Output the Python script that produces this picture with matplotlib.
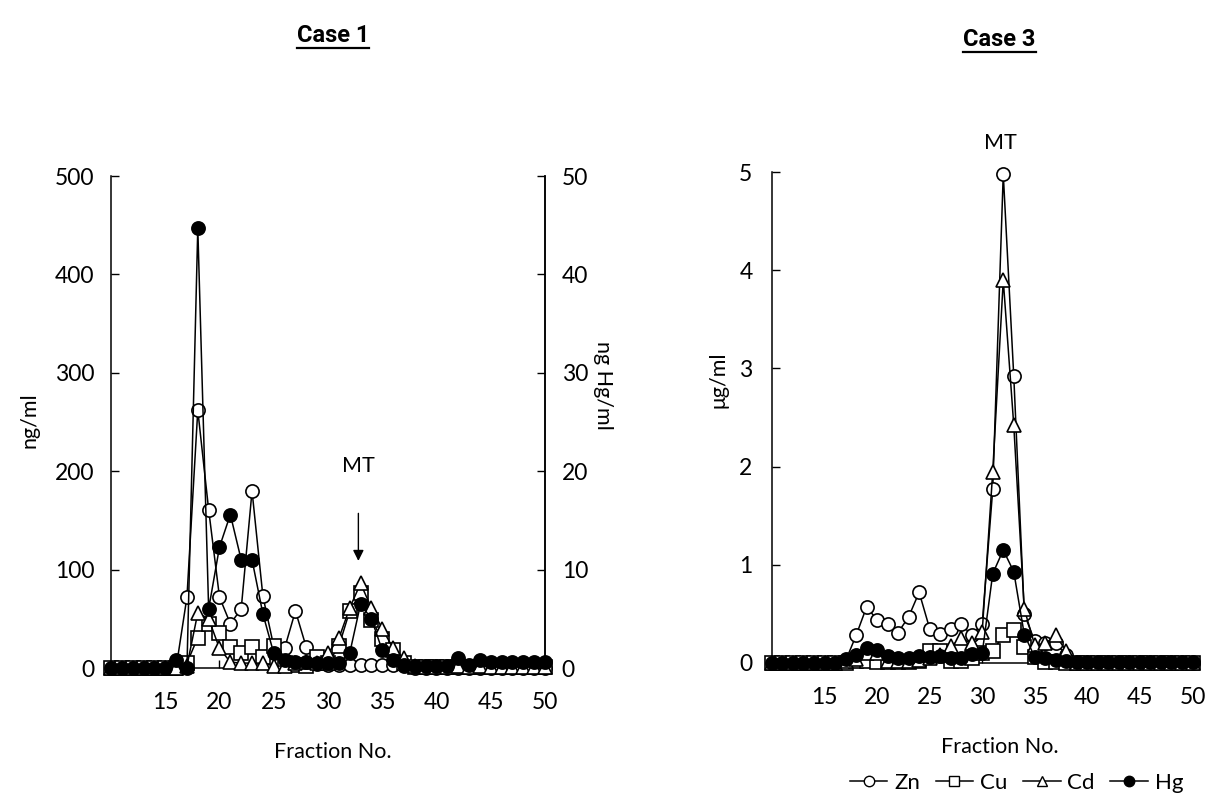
import numpy as np
import matplotlib.pyplot as plt
from matplotlib.lines import Line2D

plt.rcParams['font.family'] = ['Lato', 'DejaVu Sans']

# fraction numbers shown on both panels
fractions = np.arange(10, 51)

# Case 1 (ng/ml; Hg on right axis in ng Hg/ml)
zn1 = [0, 0, 0, 0, 0, 0, 0, 72, 262, 161, 72, 45, 60, 180, 73, 22, 20, 58, 21, 4, 3,
       3, 3, 3, 3, 3, 3, 2, 0, 0, 0, 0, 0, 0, 0, 0, 0, 0, 0, 0, 0]
cu1 = [0, 0, 0, 0, 0, 0, 0, 5, 31, 45, 36, 21, 15, 21, 11, 22, 5, 3, 2, 11, 5,
       22, 58, 76, 49, 29, 18, 5, 1, 1, 1, 1, 1, 1, 1, 1, 1, 1, 1, 1, 1]
cd1 = [0, 0, 0, 0, 0, 0, 0, 2, 56, 50, 20, 6, 5, 5, 5, 2, 2, 5, 6, 5, 15,
       30, 61, 86, 61, 40, 20, 10, 2, 1, 1, 1, 2, 1, 2, 1, 1, 1, 1, 1, 1]
hg1 = [0, 0, 0, 0, 0, 0, 0.8, 0, 44.7, 6.0, 12.3, 15.6, 11, 11, 5.5, 1.5, 0.8, 0.6, 0.6, 0.5, 0.5,
       0.5, 1.5, 6.5, 5.0, 1.8, 0.8, 0.3, 0.2, 0.2, 0.2, 0.2, 1.0, 0.3, 0.8, 0.6, 0.6, 0.6, 0.6, 0.6, 0.6]

# Case 3 (ug/ml)
zn3 = [0, 0, 0, 0, 0, 0, 0, 0.02, 0.28, 0.57, 0.44, 0.40, 0.31, 0.47, 0.72, 0.35, 0.30, 0.35, 0.40, 0.28, 0.40,
       1.77, 4.98, 2.92, 0.5, 0.22, 0.2, 0.2, 0.08, 0, 0, 0, 0, 0, 0, 0, 0, 0, 0, 0, 0]
cu3 = [0, 0, 0, 0, 0, 0, 0, 0, 0.02, 0.02, 0.01, 0.01, 0.01, 0.01, 0.02, 0.12, 0.12, 0.02, 0.02, 0.05, 0.1,
       0.12, 0.28, 0.34, 0.16, 0.06, 0.01, 0.01, 0, 0, 0, 0, 0, 0, 0, 0, 0, 0, 0, 0, 0]
cd3 = [0, 0, 0, 0, 0, 0, 0, 0.02, 0.04, 0.1, 0.1, 0.02, 0.02, 0.02, 0.03, 0.05, 0.08, 0.17, 0.25, 0.2, 0.32,
       1.95, 3.9, 2.42, 0.55, 0.18, 0.2, 0.28, 0.12, 0, 0, 0, 0, 0, 0, 0, 0, 0, 0, 0, 0]
hg3 = [0, 0, 0, 0, 0, 0, 0, 0.04, 0.08, 0.15, 0.13, 0.07, 0.05, 0.05, 0.07, 0.06, 0.07, 0.05, 0.05, 0.09, 0.1,
       0.91, 1.15, 0.93, 0.29, 0.06, 0.05, 0.03, 0.02, 0.01, 0.01, 0.01, 0.01, 0.01, 0.01, 0.01, 0.01, 0.01, 0.01, 0.01, 0.01]

xticks = [15, 20, 25, 30, 35, 40, 45, 50]

ms = 9.5
lw = 1.1
styles = {
    'Zn': dict(marker='o', mfc='white', mec='black'),
    'Cu': dict(marker='s', mfc='white', mec='black'),
    'Cd': dict(marker='^', mfc='white', mec='black'),
    'Hg': dict(marker='o', mfc='black', mec='black'),
}


def draw(ax, x, y, key, z):
    ax.plot(x, y, color='black', lw=lw, ms=ms, mew=1.2, clip_on=False, zorder=z, **styles[key])


def style_axis(ax, right=False):
    ax.spines['top'].set_visible(False)
    if not right:
        ax.spines['right'].set_visible(False)
    for s in ax.spines.values():
        s.set_linewidth(1.1)
    ax.tick_params(direction='in', length=6, width=1, labelsize=16.5)


fig = plt.figure(figsize=(12.13, 7.96), dpi=100)

# ---- Case 1 ----
ax1 = fig.add_axes([0.0915, 0.1608, 0.3578, 0.618])
draw(ax1, fractions, zn1, 'Zn', 3)
draw(ax1, fractions, cu1, 'Cu', 4)
draw(ax1, fractions, cd1, 'Cd', 5)
ax1.set_xlim(10, 50)
ax1.set_ylim(0, 500)
ax1.set_yticks([0, 100, 200, 300, 400, 500])
ax1.set_xticks(xticks)
style_axis(ax1, right=True)
ax1.tick_params(axis='y', pad=12)
ax1.tick_params(axis='x', pad=17)

ax1b = ax1.twinx()
draw(ax1b, fractions, hg1, 'Hg', 6)
ax1b.set_ylim(0, 50)
ax1b.set_yticks([0, 10, 20, 30, 40, 50])
style_axis(ax1b, right=True)
ax1b.spines['left'].set_visible(False)
ax1b.spines['bottom'].set_visible(False)
ax1b.tick_params(axis='y', pad=12)

ax1.annotate('', xy=(32.8, 106), xytext=(32.8, 160),
             arrowprops=dict(arrowstyle='-|>', color='black', lw=1, mutation_scale=16))
ax1.text(32.8, 205, 'MT', ha='center', va='center', fontsize=15.5)

# ---- Case 3 ----
ax3 = fig.add_axes([0.6364, 0.1671, 0.3467, 0.6168])
draw(ax3, fractions, zn3, 'Zn', 3)
draw(ax3, fractions, cu3, 'Cu', 4)
draw(ax3, fractions, cd3, 'Cd', 5)
draw(ax3, fractions, hg3, 'Hg', 6)
ax3.set_xlim(10, 50)
ax3.set_ylim(0, 5)
ax3.set_yticks([0, 1, 2, 3, 4, 5])
ax3.set_xticks(xticks)
style_axis(ax3)
ax3.tick_params(axis='y', pad=14)
ax3.tick_params(axis='x', pad=17)
ax3.text(31.7, 5.3, 'MT', ha='center', va='center', fontsize=15.5, clip_on=False)

# labels
fig.text(0.0247, 0.472, 'ng/ml', rotation=90, ha='center', va='center', fontsize=15.5)
fig.text(0.497, 0.516, 'ng Hg/ml', rotation=270, ha='center', va='center', fontsize=15.5)
fig.text(0.592, 0.523, 'μg/ml', rotation=90, ha='center', va='center', fontsize=15.5)
fig.text(0.2745, 0.055, 'Fraction No.', ha='center', va='center', fontsize=15.5)
fig.text(0.824, 0.062, 'Fraction No.', ha='center', va='center', fontsize=15.5)

# underlined titles
renderer = fig.canvas.get_renderer()
for tx, ty, s in [(0.2745, 0.956, 'Case 1'), (0.824, 0.95, 'Case 3')]:
    t = fig.text(tx, ty, s, ha='center', va='center', fontsize=17, fontweight='bold',
                 family=['Roboto', 'DejaVu Sans'])
    bb = t.get_window_extent(renderer)
    yl = (bb.y0 - 1) / fig.bbox.height
    fig.add_artist(Line2D([bb.x0 / fig.bbox.width, bb.x1 / fig.bbox.width], [yl, yl],
                          transform=fig.transFigure, color='black', lw=1.6))

# legend
handles = [Line2D([], [], color='black', lw=lw, ms=7.5, **styles[k]) for k in ['Zn', 'Cu', 'Cd', 'Hg']]
fig.legend(handles, ['Zn', 'Cu', 'Cd', 'Hg'], loc='center', bbox_to_anchor=(0.838, 0.016), ncol=4,
           frameon=False, handlelength=1.7, columnspacing=0.7, handletextpad=0.3, fontsize=16)

fig.savefig('out.png', dpi=100, facecolor='white')
